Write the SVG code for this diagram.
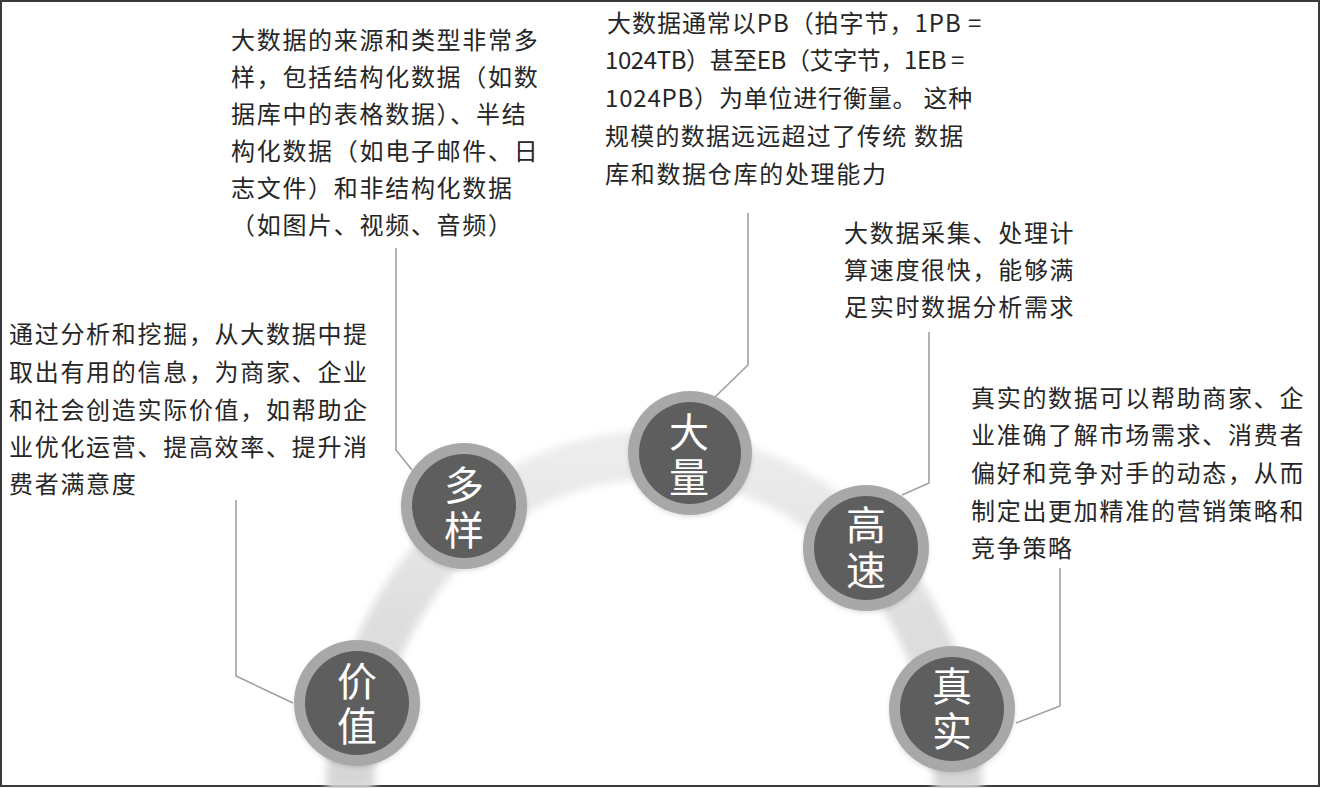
<svg xmlns="http://www.w3.org/2000/svg" width="1321" height="788" viewBox="0 0 1321 788">
<style>
.t{font-family:"Noto Sans CJK SC","Liberation Sans",sans-serif;font-size:24px;letter-spacing:1.7px;fill:#262626}
.c{font-family:"Noto Sans CJK SC",sans-serif;font-size:40px;fill:#ffffff;text-anchor:middle;writing-mode:vertical-rl;letter-spacing:5px}
.ring{fill:#a8a8a8}
.core{fill:#5e5e5e}
.conn{fill:none;stroke:#a0a0a0;stroke-width:1.6}
</style>
<defs>
<filter id="blur" x="-20%" y="-20%" width="140%" height="140%"><feGaussianBlur stdDeviation="4"/></filter>
<filter id="sh" x="-30%" y="-30%" width="160%" height="160%"><feGaussianBlur stdDeviation="2"/></filter>
<linearGradient id="band" x1="0" y1="0" x2="0" y2="1">
<stop offset="0" stop-color="#ececec"/>
<stop offset="0.5" stop-color="#dedede"/>
<stop offset="1" stop-color="#d6d6d6"/>
</linearGradient>
</defs>
<rect x="0" y="0" width="1321" height="788" fill="#ffffff"/>
<rect x="1" y="1" width="1318" height="785" fill="none" stroke="#3a3a3a" stroke-width="2"/>

<g id="band-arc">
<path d="M 350 790 A 304 335 0 0 1 958 790" fill="none" stroke="url(#band)" stroke-width="48" filter="url(#blur)"/>
</g>

<g id="connectors">
<polyline class="conn" points="236,500 236,676 293,703"/>
<polyline class="conn" points="396,248 396,450 412,470"/>
<polyline class="conn" points="748,213 748,365 715,397"/>
<polyline class="conn" points="929,332 929,483 902,495"/>
<polyline class="conn" points="1060,568 1060,706 1016,723"/>
</g>

<g id="node-jiazhi">
<circle cx="357" cy="705" r="63" fill="#000" opacity="0.12" filter="url(#sh)"/>
<circle class="ring" cx="357" cy="703" r="63"/>
<circle class="core" cx="357" cy="703" r="52"/>
<text class="c" x="357" y="706">价值</text>
</g>

<g id="node-duoyang">
<circle cx="464" cy="508" r="63" fill="#000" opacity="0.12" filter="url(#sh)"/>
<circle class="ring" cx="464" cy="506" r="63"/>
<circle class="core" cx="464" cy="506" r="52"/>
<text class="c" x="464" y="510">多样</text>
</g>

<g id="node-daliang">
<circle cx="690" cy="455" r="62" fill="#000" opacity="0.12" filter="url(#sh)"/>
<circle class="ring" cx="690" cy="453" r="62"/>
<circle class="core" cx="690" cy="453" r="51"/>
<text class="c" x="689" y="457">大量</text>
</g>

<g id="node-gaosu">
<circle cx="866" cy="550" r="63" fill="#000" opacity="0.12" filter="url(#sh)"/>
<circle class="ring" cx="866" cy="548" r="63"/>
<circle class="core" cx="866" cy="548" r="52"/>
<text class="c" x="866" y="550">高速</text>
</g>

<g id="node-zhenshi">
<circle cx="952" cy="711" r="63" fill="#000" opacity="0.12" filter="url(#sh)"/>
<circle class="ring" cx="952" cy="709" r="63"/>
<circle class="core" cx="952" cy="709" r="52"/>
<text class="c" x="952" y="711">真实</text>
</g>

<g id="text-jiazhi">
<text class="t" x="9" y="343">通过分析和挖掘，从大数据中提</text>
<text class="t" x="9" y="381">取出有用的信息，为商家、企业</text>
<text class="t" x="9" y="419">和社会创造实际价值，如帮助企</text>
<text class="t" x="9" y="456">业优化运营、提高效率、提升消</text>
<text class="t" x="9" y="493">费者满意度</text>
</g>

<g id="text-duoyang">
<text class="t" x="231" y="49">大数据的来源和类型非常多</text>
<text class="t" x="231" y="86">样，包括结构化数据（如数</text>
<text class="t" x="231" y="123">据库中的表格数据）、半结</text>
<text class="t" x="231" y="160">构化数据（如电子邮件、日</text>
<text class="t" x="231" y="197">志文件）和非结构化数据</text>
<text class="t" x="231" y="234">（如图片、视频、音频）</text>
</g>

<g id="text-daliang">
<text class="t" x="607" y="32" textLength="376" lengthAdjust="spacing">大数据通常以PB（拍字节，1PB =</text>
<text class="t" x="605" y="69" textLength="361" lengthAdjust="spacing">1024TB）甚至EB（艾字节，1EB =</text>
<text class="t" x="605" y="107" textLength="369" lengthAdjust="spacing">1024PB）为单位进行衡量。 这种</text>
<text class="t" x="605" y="145" textLength="360" lengthAdjust="spacing">规模的数据远远超过了传统 数据</text>
<text class="t" x="605" y="183">库和数据仓库的处理能力</text>
</g>

<g id="text-gaosu">
<text class="t" x="844" y="242">大数据采集、处理计</text>
<text class="t" x="844" y="279">算速度很快，能够满</text>
<text class="t" x="844" y="316">足实时数据分析需求</text>
</g>

<g id="text-zhenshi">
<text class="t" x="971" y="407">真实的数据可以帮助商家、企</text>
<text class="t" x="971" y="444">业准确了解市场需求、消费者</text>
<text class="t" x="971" y="482">偏好和竞争对手的动态，从而</text>
<text class="t" x="971" y="520">制定出更加精准的营销策略和</text>
<text class="t" x="971" y="557">竞争策略</text>
</g>
</svg>
